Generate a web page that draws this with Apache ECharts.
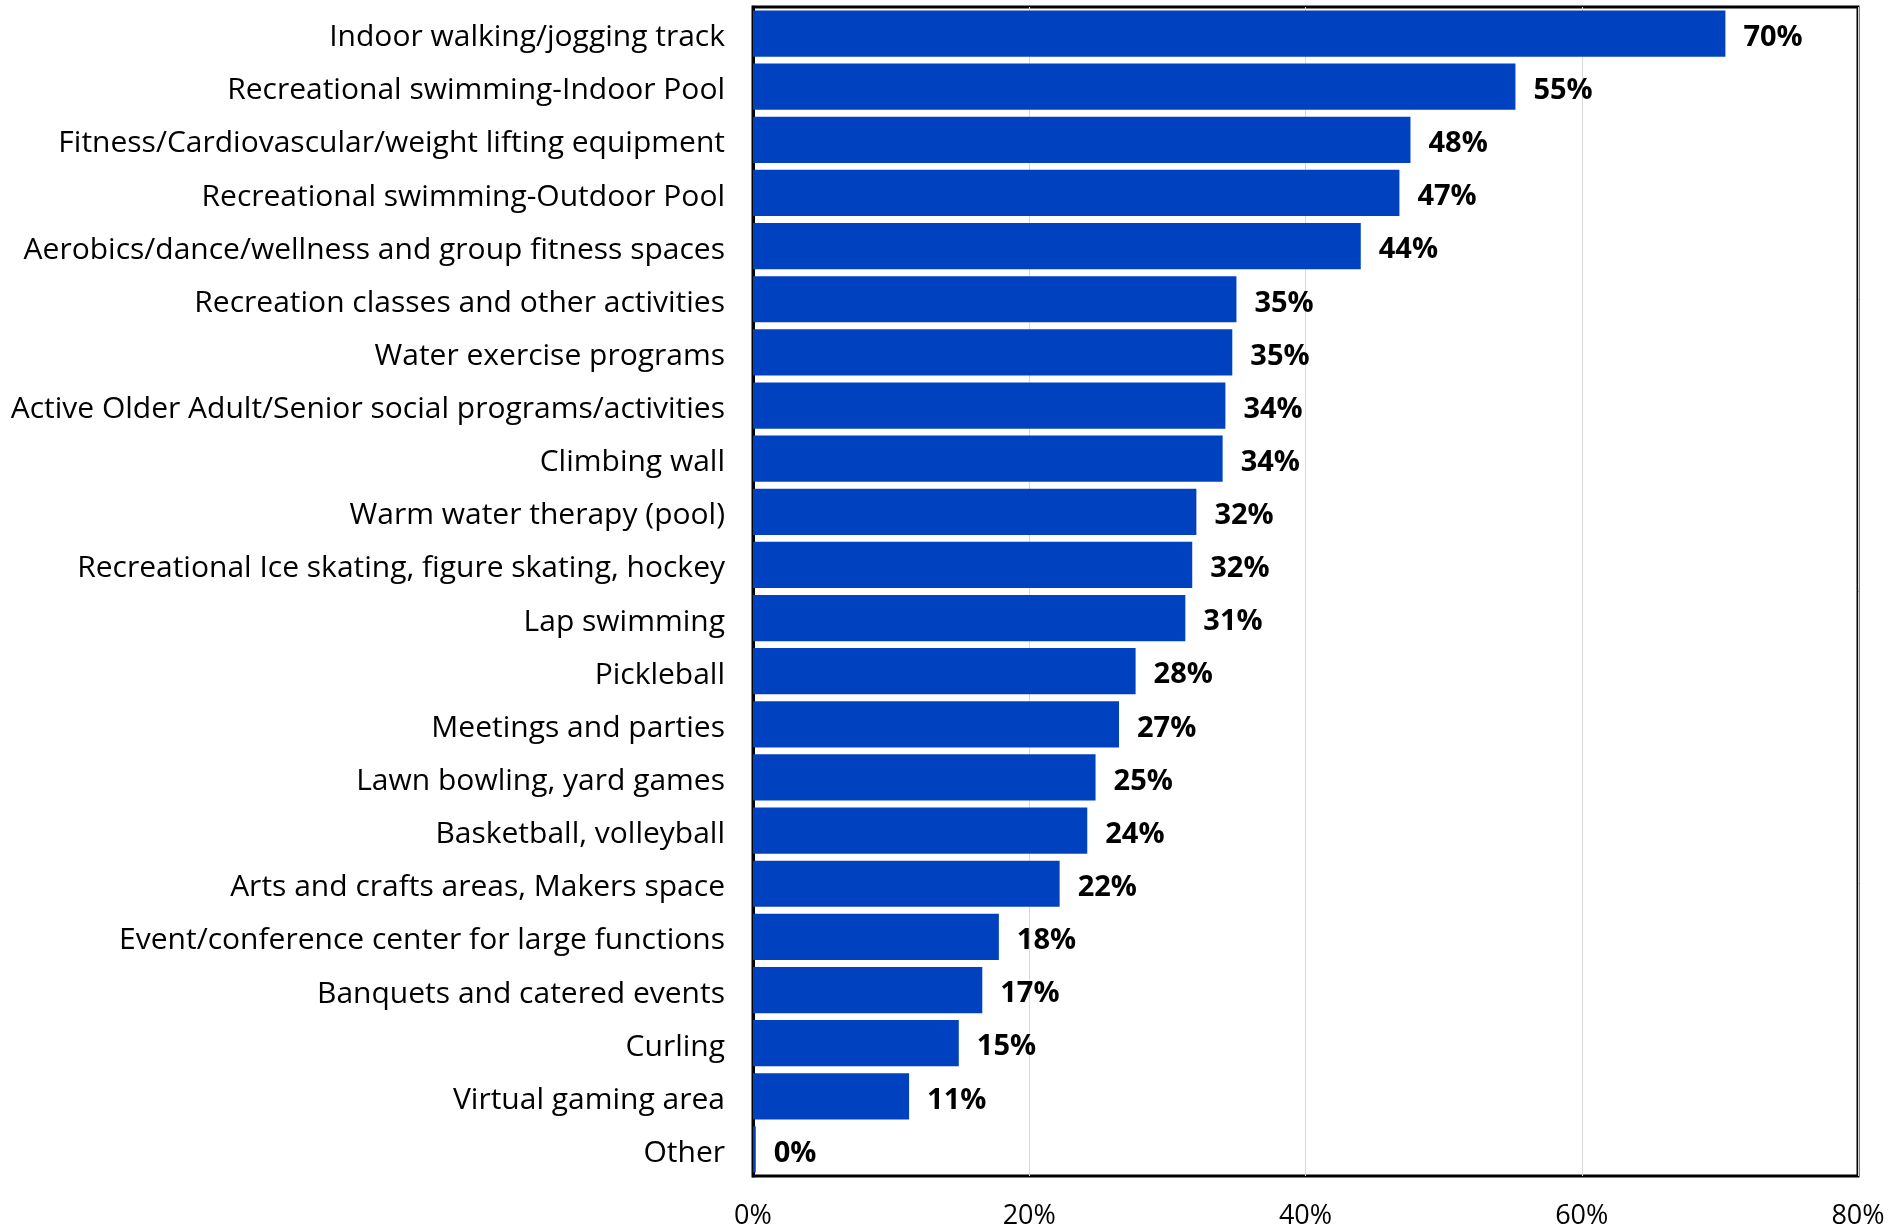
<!DOCTYPE html>
<html>
<head>
<meta charset="utf-8">
<style>
  html, body { margin: 0; padding: 0; background: #ffffff; }
  #chart { width: 1904px; height: 1228px; }
</style>
<script src="https://cdn.jsdelivr.net/npm/echarts@6/dist/echarts.min.js"></script>
</head>
<body>
<div id="chart"></div>
<script>
// Facility / program categories, top to bottom
const categories = [
  "Indoor walking/jogging track",
  "Recreational swimming-Indoor Pool",
  "Fitness/Cardiovascular/weight lifting equipment",
  "Recreational swimming-Outdoor Pool",
  "Aerobics/dance/wellness and group fitness spaces",
  "Recreation classes and other activities",
  "Water exercise programs",
  "Active Older Adult/Senior social programs/activities",
  "Climbing wall",
  "Warm water therapy (pool)",
  "Recreational Ice skating, figure skating, hockey",
  "Lap swimming",
  "Pickleball",
  "Meetings and parties",
  "Lawn bowling, yard games",
  "Basketball, volleyball",
  "Arts and crafts areas, Makers space",
  "Event/conference center for large functions",
  "Banquets and catered events",
  "Curling",
  "Virtual gaming area",
  "Other"
];

// Share of respondents (%), labels show the rounded value
const shares = [
  70.4, 55.2, 47.6, 46.8, 44.0, 35.0, 34.7, 34.2, 34.0, 32.1, 31.8,
  31.3, 27.7, 26.5, 24.8, 24.2, 22.2, 17.8, 16.6, 14.9, 11.3, 0.2
];

// Value axis ticks
const xTicks = [0, 20, 40, 60, 80];

const FONT = '"Open Sans", Lato, sans-serif';

const chart = echarts.init(document.getElementById('chart'), null, { renderer: 'canvas' });

chart.setOption({
  animation: false,
  backgroundColor: '#ffffff',
  textStyle: { fontFamily: FONT },
  grid: {
    left: 753, right: 46, top: 7, bottom: 52,
    show: true, borderColor: '#000000', borderWidth: 3,
    containLabel: false,
    outerBoundsMode: 'none'
  },
  xAxis: {
    type: 'value',
    min: xTicks[0],
    max: xTicks[xTicks.length - 1],
    interval: 20,
    axisLine: { show: false },
    axisTick: { show: false },
    splitLine: { show: true, lineStyle: { color: '#d9d9d9', width: 1 } },
    axisLabel: {
      color: '#000000',
      fontSize: 27,
      margin: 27,
      fontFamily: FONT,
      formatter: v => v + '%'
    }
  },
  yAxis: {
    type: 'category',
    data: categories,
    inverse: true,
    axisLine: { show: true, lineStyle: { color: '#000000', width: 3 } },
    axisTick: { show: false },
    splitLine: { show: false },
    axisLabel: {
      color: '#000000',
      fontSize: 30,
      margin: 28,
      fontFamily: FONT,
      formatter: v => '{c|' + v + '}',
      rich: {
        c: { fontSize: 30, fontFamily: FONT, color: '#000000', padding: [8, 0, 0, 0] }
      }
    }
  },
  series: [{
    type: 'bar',
    data: shares,
    barCategoryGap: '13%',
    itemStyle: { color: '#0041C0' },
    label: {
      show: true,
      position: 'right',
      distance: 18,
      offset: [0, 4],
      color: '#000000',
      fontSize: 29,
      fontWeight: 'bold',
      fontFamily: FONT,
      formatter: p => Math.round(p.value) + '%'
    }
  }]
});
</script>
</body>
</html>
